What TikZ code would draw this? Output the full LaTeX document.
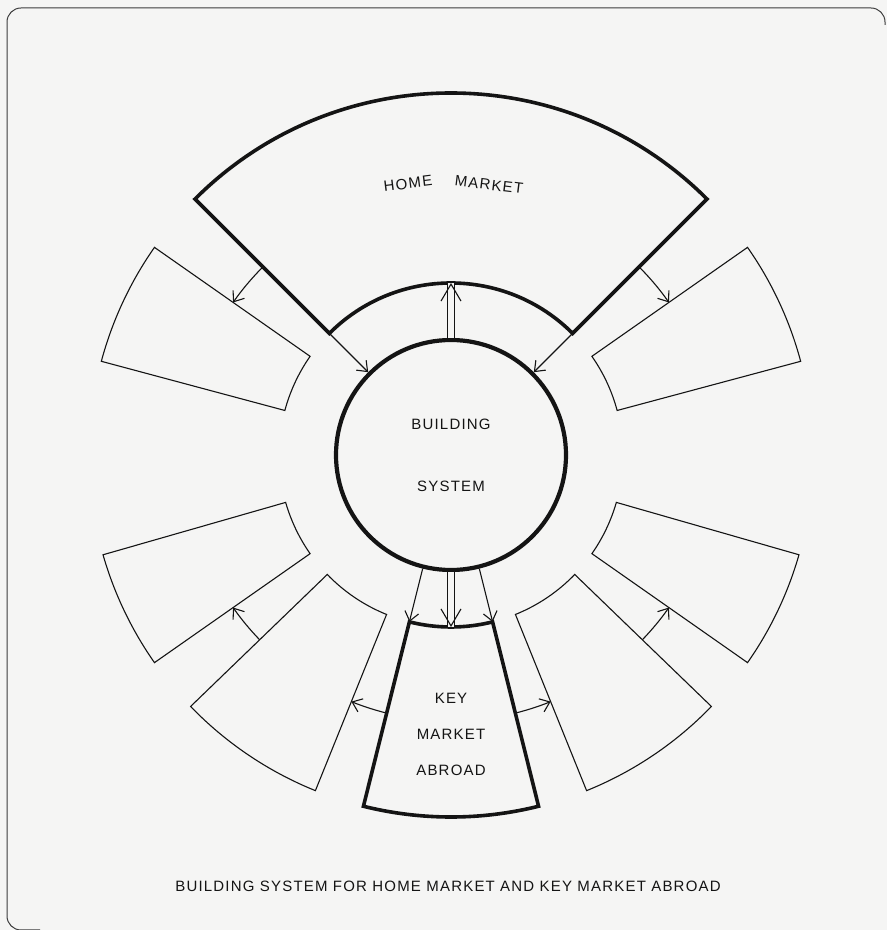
\documentclass[tikz,border=0pt]{standalone}
\usepackage{fontspec}
\setmainfont{Liberation Sans}[LetterSpace=8]
\usetikzlibrary{arrows.meta,calc,decorations.markings}

\definecolor{paper}{RGB}{245,245,244}
\definecolor{ink}{RGB}{20,20,20}

\tikzset{every picture/.style={line width=1.1pt}}
\tikzset{
  bold sector/.style={draw=ink, line width=3.6pt, line join=miter},
  thin sector/.style={draw=ink, line width=1.1pt},
  feed/.style={draw=ink, line width=1.1pt, -{Straight Barb[length=9pt,width=14pt]}},
  twin/.style={draw=ink, line width=1.1pt, double=paper, double distance=5.6pt,
    postaction={decorate},
    decoration={markings, mark=at position 1 with {\arrow[draw=ink, line width=1.1pt]{Straight Barb[length=17pt,width=20pt]}}}},
  hub/.style={circle, draw=ink, line width=4.2pt, minimum size=230pt, inner sep=0pt, align=center},
  lettering/.style={text=ink, font=\fontsize{15}{18}\selectfont},
}

\begin{document}
\begin{tikzpicture}[x=1pt, y=1pt]
    \useasboundingbox (0,0) rectangle (887,930);
    \fill[paper] (0,0) rectangle (887,930);
    \draw[line width=1pt, color={rgb,255:red,60;green,60;blue,60}, rounded corners=14pt]
        (885,905) -- (885,922) -- (7,922) -- (7,0) -- (40,0);

    \coordinate (c) at (451,475);

    % home market and key market abroad
    \draw[bold sector] ($(c)+(45:172pt)$) arc[start angle=45, end angle=135, radius=172pt]
        -- ($(c)+(135:362pt)$) arc[start angle=135, end angle=45, radius=362pt] -- cycle;
    \draw[bold sector] ($(c)+(256:172pt)$) arc[start angle=256, end angle=284, radius=172pt]
        -- ($(c)+(284:362pt)$) arc[start angle=284, end angle=256, radius=362pt] -- cycle;
    \coordinate (home-w) at ($(c)+(135:172pt)$);
    \coordinate (home-e) at ($(c)+(45:172pt)$);
    \coordinate (home-m) at ($(c)+(90:172pt)$);
    \coordinate (key-w) at ($(c)+(256:172pt)$);
    \coordinate (key-e) at ($(c)+(284:172pt)$);
    \coordinate (key-m) at ($(c)+(270:172pt)$);
    \coordinate (home-wl) at ($(c)+(135:266pt)$);
    \coordinate (home-el) at ($(c)+(45:266pt)$);
    \coordinate (key-wl) at ($(c)+(256:266pt)$);
    \coordinate (key-el) at ($(c)+(284:266pt)$);

    % the six other markets
    \foreach \nm/\a/\b in {nw/145/165, ne/15/35, wu/196/215, eu/325/344, wl/224/248, el/292/316}{
        \draw[thin sector] ($(c)+(\a:172pt)$) arc[start angle=\a, end angle=\b, radius=172pt]
            -- ($(c)+(\b:362pt)$) arc[start angle=\b, end angle=\a, radius=362pt] -- cycle;
        \coordinate (\nm-a) at ($(c)+(\a:266pt)$);
        \coordinate (\nm-b) at ($(c)+(\b:266pt)$);
    }

    \node[hub, lettering] (sys) at (c) {BUILDING\\[44pt]SYSTEM};

    \draw[feed] (home-w) -- (sys.135);
    \draw[feed] (home-e) -- (sys.45);
    \draw[twin] (sys.90) -- (home-m);
    \draw[feed] (sys.256) -- (key-w);
    \draw[feed] (sys.284) -- (key-e);
    \draw[twin] (sys.270) -- (key-m);

    \draw[feed] (home-wl) arc[start angle=135, end angle=145, radius=266pt];
    \draw[feed] (home-el) arc[start angle=45, end angle=35, radius=266pt];
    \draw[feed] (wl-a) arc[start angle=224, end angle=215, radius=266pt];
    \draw[feed] (key-wl) arc[start angle=256, end angle=248, radius=266pt];
    \draw[feed] (key-el) arc[start angle=284, end angle=292, radius=266pt];
    \draw[feed] (el-b) arc[start angle=316, end angle=325, radius=266pt];

    \node[lettering, rotate=7] (home-lbl) at ($(c)+(99:275pt)$) {HOME};
    \node[lettering, rotate=-7] (market-lbl) at ($(c)+(82:273pt)$) {MARKET};
    \node[lettering, align=center] (key-lbl) at ($(c)+(270:279pt)$) {KEY\\[18pt]MARKET\\[18pt]ABROAD};

    \node[lettering] (caption) at (448,44) {BUILDING SYSTEM FOR HOME MARKET AND KEY MARKET ABROAD};
\end{tikzpicture}
\end{document}
